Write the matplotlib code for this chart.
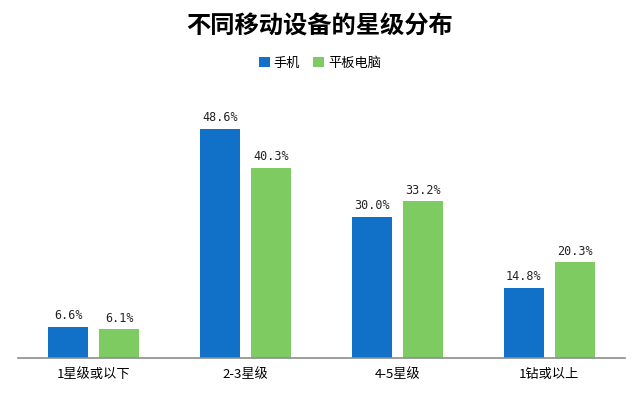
import matplotlib
matplotlib.use('Agg')
import matplotlib.pyplot as plt
import numpy as np

plt.rcParams['font.family'] = ['Noto Sans CJK SC', 'DejaVu Sans']

categories = ['1星级或以下', '2-3星级', '4-5星级', '1钻或以上']
phone = [6.6, 48.6, 30.0, 14.8]
tablet = [6.1, 40.3, 33.2, 20.3]
series_names = ['手机', '平板电脑']

blue = '#1170c8'
green = '#7ecb62'

fig = plt.figure(figsize=(6.4, 3.96), dpi=100)
ax = fig.add_axes([18/640, 1 - 358/396, 607/640, 283/396])

x = np.arange(len(categories))
w = 0.263
off = 0.168
b1 = ax.bar(x - off, phone, w, color=blue, label=series_names[0])
b2 = ax.bar(x + off, tablet, w, color=green, label=series_names[1])

for bars, vals in ((b1, phone), (b2, tablet)):
    for r, v in zip(bars, vals):
        ax.text(r.get_x() + r.get_width()/2, v + 1.0, '%.1f%%' % v,
                ha='center', va='bottom', fontsize=8.5, color='#222222',
                family=['DejaVu Sans Mono'])

ax.set_xlim(-0.5, 3.5)
ax.set_ylim(0, 60)
ax.set_yticks([])
ax.set_xticks(x)
ax.set_xticklabels(categories, fontsize=9.5)
ax.tick_params(axis='x', length=0, pad=7)
for s in ['top', 'right', 'left']:
    ax.spines[s].set_visible(False)
ax.spines['bottom'].set_color('#8c8c8c')
ax.spines['bottom'].set_linewidth(1.2)

fig.text(0.5, 1 - 27/396, '不同移动设备的星级分布', ha='center', va='center',
         fontsize=17.5, fontweight='bold')
fig.legend(handles=[b1, b2], loc='center', bbox_to_anchor=(0.5, 1 - 63/396),
           ncol=2, frameon=False, fontsize=9.5, handlelength=0.8,
           handleheight=0.8, handletextpad=0.3, columnspacing=1.0)

fig.savefig('out.png', dpi=100)
